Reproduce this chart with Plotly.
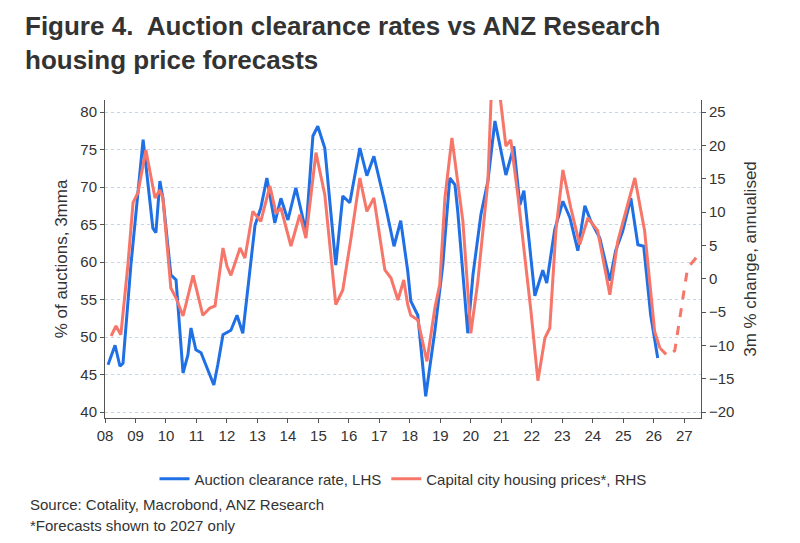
import plotly.graph_objects as go

# Auction clearance rate, % (LHS)
acr_year = [2008.10, 2008.33, 2008.49, 2008.59, 2008.85, 2009.25, 2009.57, 2009.67, 2009.80, 2009.90,
            2010.16, 2010.33, 2010.56, 2010.72, 2010.82, 2010.98, 2011.15, 2011.38, 2011.57, 2011.70,
            2011.87, 2012.13, 2012.33, 2012.52, 2012.92, 2013.11, 2013.31, 2013.57, 2013.77, 2014.00,
            2014.26, 2014.59, 2014.82, 2014.98, 2015.21, 2015.57, 2015.80, 2016.03, 2016.36, 2016.59,
            2016.82, 2017.18, 2017.48, 2017.70, 2017.93, 2018.03, 2018.26, 2018.52, 2018.82, 2019.08,
            2019.31, 2019.48, 2019.57, 2019.90, 2020.07, 2020.33, 2020.56, 2020.79, 2020.98, 2021.15,
            2021.41, 2021.61, 2021.74, 2022.10, 2022.36, 2022.49, 2022.75, 2023.02, 2023.25, 2023.51,
            2023.74, 2023.93, 2024.23, 2024.56, 2024.75, 2024.98, 2025.25, 2025.48, 2025.67, 2025.90,
            2026.13]
acr_value = [46.3, 48.9, 46.1, 46.5, 59.6, 76.3, 64.5, 63.9, 70.8, 68.5,
             58.3, 57.6, 45.2, 47.6, 51.2, 48.3, 47.9, 45.6, 43.6, 46.3,
             50.3, 50.9, 52.9, 50.5, 64.9, 67.2, 71.2, 65.2, 68.5, 65.6,
             69.9, 64.1, 76.8, 78.1, 75.2, 59.6, 68.8, 67.9, 75.2, 71.5,
             74.1, 67.9, 62.1, 65.5, 58.8, 54.8, 52.9, 42.1, 50.8, 59.6,
             71.2, 70.3, 66.8, 50.5, 58.3, 66.3, 70.8, 78.8, 75.2, 71.6,
             75.4, 67.6, 69.5, 55.5, 58.9, 57.2, 64.3, 68.1, 65.9, 61.5,
             67.5, 65.5, 63.2, 57.5, 61.5, 64.1, 68.5, 62.3, 62.1, 52.9,
             47.2]

# Capital city housing prices, 3m % change annualised (RHS)
hp_year = [2008.20, 2008.36, 2008.52, 2008.75, 2008.92, 2009.08, 2009.34, 2009.64, 2009.80, 2009.90,
           2010.16, 2010.33, 2010.56, 2010.89, 2011.21, 2011.44, 2011.61, 2011.87, 2012.00, 2012.13,
           2012.43, 2012.59, 2012.85, 2013.11, 2013.41, 2013.61, 2013.77, 2014.10, 2014.39, 2014.59,
           2014.92, 2015.21, 2015.57, 2015.80, 2016.07, 2016.36, 2016.59, 2016.82, 2017.18, 2017.38,
           2017.61, 2017.80, 2017.93, 2018.03, 2018.26, 2018.56, 2018.82, 2018.98, 2019.15, 2019.38,
           2019.74, 2020.00, 2020.23, 2020.56, 2020.69, 2020.89, 2021.15, 2021.31, 2021.54, 2021.70,
           2021.97, 2022.20, 2022.43, 2022.59, 2022.79, 2023.02, 2023.28, 2023.57, 2023.84, 2024.16,
           2024.56, 2024.82, 2025.15, 2025.38, 2025.70, 2026.03, 2026.20]
hp_value = [-8.6, -7.1, -8.4, 2.0, 11.4, 12.9, 19.3, 12.1, 13.3, 12.1,
            -1.4, -2.9, -5.6, 0.5, -5.5, -4.4, -4.1, 4.6, 1.9, 0.5,
            4.6, 3.1, 10.1, 8.6, 13.9, 9.8, 10.6, 4.9, 9.6, 6.1,
            18.9, 12.6, -3.9, -1.7, 6.1, 15.1, 10.1, 12.1, 1.3, 0.1,
            -3.2, -0.2, -3.9, -5.5, -6.2, -12.4, -4.4, -0.9, 12.1, 21.1,
            8.6, -8.2, -0.4, 14.6, 30.0, 30.0, 19.9, 20.8, 12.6, 6.1,
            -4.8, -15.3, -8.9, -7.4, 7.2, 16.3, 10.6, 5.1, 9.1, 7.2,
            -2.4, 5.6, 11.1, 15.1, 7.2, -7.9, -10.4]

fc_year = [2026.20, 2026.46, 2026.69, 2026.89, 2027.11, 2027.44]
fc_value = [-10.4, -11.6, -10.8, -4.8, 1.6, 3.4]

years = list(range(2008, 2028))
year_labels = [f"{y % 100:02d}" for y in years]

BLUE = "#1f6fe5"
RED = "#f7766a"
GRID = "rgba(160,185,210,0.6)"
FONT = "Liberation Sans, Arial, sans-serif"
TXT = "#333"

fig = go.Figure()
fig.add_trace(go.Scatter(x=acr_year, y=acr_value, mode="lines", name="Auction clearance rate, LHS",
                         line={"color": BLUE, "width": 3}))
fig.add_trace(go.Scatter(x=hp_year, y=hp_value, mode="lines", name="Capital city housing prices*, RHS",
                         line={"color": RED, "width": 3}, yaxis="y2"))
fig.add_trace(go.Scatter(x=fc_year, y=fc_value, mode="lines", showlegend=False,
                         line={"color": RED, "width": 3, "dash": "dash"}, yaxis="y2"))

lrange = [39.2, 81.6]
rrange = [(v - 40) * 1.125 - 20 for v in lrange]

fig.update_layout(
    width=800, height=543,
    paper_bgcolor="white", plot_bgcolor="white",
    font={"family": FONT, "size": 15, "color": TXT},
    margin={"l": 97, "r": 107, "t": 92, "b": 133, "autoexpand": False},
    xaxis={"range": [2008, 2027.55], "tickvals": years, "ticktext": year_labels,
           "showgrid": False, "showline": True, "linecolor": "#555", "ticks": "outside",
           "ticklen": 4, "tickcolor": "#555", "tickfont": {"size": 15}},
    yaxis={"range": lrange, "dtick": 5, "tick0": 40, "showgrid": True, "gridcolor": GRID,
           "griddash": "dot", "showline": True, "linecolor": "#555", "ticks": "outside",
           "ticklen": 4, "tickcolor": "#555", "zeroline": False,
           "title": {"text": "% of auctions, 3mma", "font": {"size": 17}, "standoff": 8}},
    yaxis2={"range": rrange, "dtick": 5, "tick0": -20, "overlaying": "y", "side": "right",
            "showgrid": False, "showline": True, "linecolor": "#555", "ticks": "outside",
            "ticklen": 4, "tickcolor": "#555", "zeroline": False,
            "title": {"text": "3m % change, annualised", "font": {"size": 17}, "standoff": 10}},
    legend={"orientation": "h", "x": 0.5, "xanchor": "center", "y": -0.14, "yanchor": "top",
            "font": {"size": 15}},
    showlegend=True,
)
fig.add_annotation(text="<b>Figure 4.  Auction clearance rates vs ANZ Research<br>housing price forecasts</b>",
                   xref="paper", yref="paper", x=-0.138, y=1.285, xanchor="left", yanchor="top",
                   align="left", showarrow=False, font={"size": 26, "color": TXT})
fig.add_annotation(text="Source: Cotality, Macrobond, ANZ Research", xref="paper", yref="paper",
                   x=-0.13, y=-0.24, xanchor="left", yanchor="top", showarrow=False,
                   font={"size": 15, "color": TXT})
fig.add_annotation(text="*Forecasts shown to 2027 only", xref="paper", yref="paper",
                   x=-0.13, y=-0.305, xanchor="left", yanchor="top", showarrow=False,
                   font={"size": 15, "color": TXT})

fig.write_html("out.html")
